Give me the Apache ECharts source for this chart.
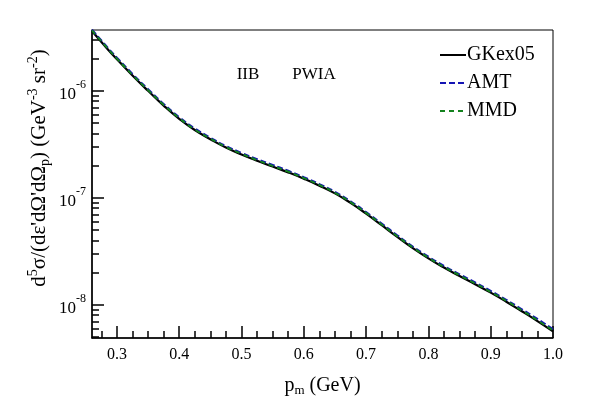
<!DOCTYPE html>
<html>
<head>
<meta charset="utf-8">
<script src="https://cdn.jsdelivr.net/npm/echarts@6/dist/echarts.min.js"></script>
<style>
html,body{margin:0;padding:0;background:#fff;}
#chart{width:615px;height:415px;}
</style>
</head>
<body>
<div id="chart"></div>
<script>
var pm = [0.26, 0.28, 0.30, 0.325, 0.35, 0.375, 0.40, 0.425, 0.45, 0.475, 0.50, 0.525, 0.55, 0.575, 0.60, 0.625, 0.65, 0.675, 0.70, 0.725, 0.75, 0.775, 0.80, 0.825, 0.85, 0.875, 0.90, 0.925, 0.95, 0.975, 1.0];
var gkex05 = [3.62e-6, 2.65e-6, 1.97e-6, 1.39e-6, 1.0e-6, 7.28e-7, 5.48e-7, 4.3e-7, 3.53e-7, 2.95e-7, 2.54e-7, 2.22e-7, 1.96e-7, 1.73e-7, 1.51e-7, 1.30e-7, 1.10e-7, 8.97e-8, 7.12e-8, 5.55e-8, 4.32e-8, 3.39e-8, 2.72e-8, 2.23e-8, 1.86e-8, 1.56e-8, 1.30e-8, 1.07e-8, 8.71e-9, 7.05e-9, 5.65e-9];
var amt = [3.72e-6, 2.74e-6, 2.04e-6, 1.44e-6, 1.035e-6, 7.54e-7, 5.67e-7, 4.45e-7, 3.65e-7, 3.05e-7, 2.63e-7, 2.30e-7, 2.03e-7, 1.79e-7, 1.56e-7, 1.345e-7, 1.14e-7, 9.28e-8, 7.37e-8, 5.75e-8, 4.47e-8, 3.51e-8, 2.82e-8, 2.31e-8, 1.93e-8, 1.62e-8, 1.35e-8, 1.115e-8, 9.1e-9, 7.38e-9, 5.93e-9];
var mmd = [3.67e-6, 2.69e-6, 2.0e-6, 1.41e-6, 1.015e-6, 7.39e-7, 5.56e-7, 4.36e-7, 3.58e-7, 2.99e-7, 2.58e-7, 2.25e-7, 1.99e-7, 1.755e-7, 1.53e-7, 1.32e-7, 1.115e-7, 9.1e-8, 7.23e-8, 5.63e-8, 4.38e-8, 3.44e-8, 2.76e-8, 2.26e-8, 1.89e-8, 1.585e-8, 1.32e-8, 1.09e-8, 8.87e-9, 7.18e-9, 5.76e-9];

var xMajor = [0.3, 0.4, 0.5, 0.6, 0.7, 0.8, 0.9, 1.0];
var xMinor = [0.275, 0.325, 0.35, 0.375, 0.425, 0.45, 0.475, 0.525, 0.55, 0.575, 0.625, 0.65, 0.675, 0.725, 0.75, 0.775, 0.825, 0.85, 0.875, 0.925, 0.95, 0.975];
var yMajor = [1e-8, 1e-7, 1e-6];
var yMinor = [5e-9, 6e-9, 7e-9, 8e-9, 9e-9, 2e-8, 3e-8, 4e-8, 5e-8, 6e-8, 7e-8, 8e-8, 9e-8,
              2e-7, 3e-7, 4e-7, 5e-7, 6e-7, 7e-7, 8e-7, 9e-7, 2e-6, 3e-6];

var FONT = 'Liberation Serif';
var Y_MIN = 4.9e-9, Y_MAX = 3.7e-6;

function pairs(ys) {
  return pm.map(function (x, i) { return [x, ys[i]]; });
}

var chart = echarts.init(document.getElementById('chart'));
chart.setOption({
  animation: false,
  backgroundColor: '#fff',
  grid: {left: 92, right: 62, top: 30, bottom: 77, show: true, borderColor: '#000', borderWidth: 1},
  legend: {
    orient: 'vertical', left: 434, top: 40,
    itemWidth: 26, itemHeight: 18, itemGap: 8,
    itemStyle: {opacity: 0},
    textStyle: {fontFamily: FONT, fontSize: 20, color: '#000', padding: [0, 0, 0, -4]},
    data: ['GKex05', 'AMT', 'MMD']
  },
  xAxis: [{
    type: 'value', min: 0.26, max: 1.0, position: 'bottom',
    splitLine: {show: false},
    axisLine: {lineStyle: {color: '#000', width: 1.5}},
    axisTick: {inside: true, length: 12, customValues: xMajor, lineStyle: {color: '#000', width: 1.5}},
    axisLabel: {customValues: xMajor, margin: 9, fontFamily: FONT, fontSize: 16, color: '#000',
      formatter: function (v) { return v.toFixed(1); }},
    name: '{b|p}{sub|m}{b| (GeV)}', nameLocation: 'middle', nameGap: 37,
    nameTextStyle: {rich: {
      b: {fontFamily: FONT, fontSize: 20, color: '#000', lineHeight: 22},
      sub: {fontFamily: FONT, fontSize: 13, color: '#000', lineHeight: 12, verticalAlign: 'bottom'}
    }}
  }, {
    type: 'value', min: 0.26, max: 1.0, position: 'bottom',
    splitLine: {show: false},
    axisLine: {show: false},
    axisTick: {inside: true, length: 7, customValues: xMinor, lineStyle: {color: '#000', width: 1.5}},
    axisLabel: {show: false}
  }],
  yAxis: [{
    type: 'log', min: Y_MIN, max: Y_MAX, position: 'left',
    splitLine: {show: false},
    axisLine: {lineStyle: {color: '#000', width: 1.5}},
    axisTick: {inside: true, length: 12, customValues: yMajor, lineStyle: {color: '#000', width: 1.5}},
    axisLabel: {customValues: yMajor, margin: 6,
      formatter: function (v) { return '{b|10}{sup|' + Math.round(Math.log10(v)) + '}'; },
      rich: {
        b: {fontFamily: FONT, fontSize: 17, color: '#000', lineHeight: 24, verticalAlign: 'bottom'},
        sup: {fontFamily: FONT, fontSize: 12, color: '#000', lineHeight: 12, verticalAlign: 'top'}
      }}
  }, {
    type: 'log', min: Y_MIN, max: Y_MAX, position: 'left',
    splitLine: {show: false},
    axisLine: {show: false},
    axisTick: {inside: true, length: 7, customValues: yMinor, lineStyle: {color: '#000', width: 1.5}},
    axisLabel: {show: false}
  }],
  graphic: [
    {type: 'text', x: 248, y: 75, style: {text: 'IIB', font: '17px "Liberation Serif"', fill: '#000', align: 'center', verticalAlign: 'middle'}},
    {type: 'text', x: 314, y: 75, style: {text: 'PWIA', font: '17px "Liberation Serif"', fill: '#000', align: 'center', verticalAlign: 'middle'}},
    {type: 'text', x: 39, y: 168, rotation: Math.PI / 2,
      style: {
        text: '{b|d}{sup|5}{b|σ/(dε\'dΩ\'dΩ}{sub|p}{b|) (GeV}{sup|-3}{b| sr}{sup|-2}{b|)}',
        align: 'center', verticalAlign: 'middle',
        rich: {
          b: {fontFamily: FONT, fontSize: 21, fill: '#000', lineHeight: 26},
          sup: {fontFamily: FONT, fontSize: 14, fill: '#000', lineHeight: 13, verticalAlign: 'top'},
          sub: {fontFamily: FONT, fontSize: 14, fill: '#000', lineHeight: 13, verticalAlign: 'bottom'}
        }
      }}
  ],
  series: [{
    name: 'GKex05', type: 'line', symbol: 'none', smooth: true,
    data: pairs(gkex05),
    lineStyle: {color: '#000', width: 2.2},
    itemStyle: {color: '#000'}
  }, {
    name: 'AMT', type: 'line', symbol: 'none', smooth: true,
    data: pairs(amt),
    lineStyle: {color: '#1414b4', width: 2, type: [6, 3]},
    itemStyle: {color: '#1414b4'}
  }, {
    name: 'MMD', type: 'line', symbol: 'none', smooth: true,
    data: pairs(mmd),
    lineStyle: {color: '#14821e', width: 2, type: [5, 4]},
    itemStyle: {color: '#14821e'}
  }]
});
</script>
</body>
</html>
